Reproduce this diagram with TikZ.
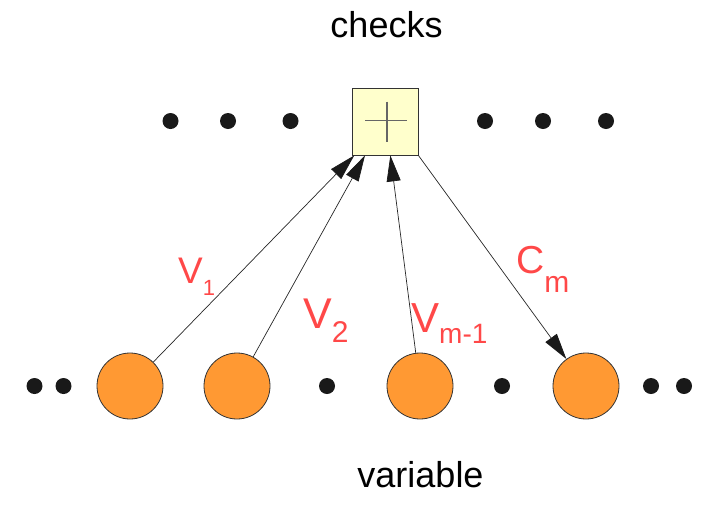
\documentclass[tikz,border=0pt]{standalone}
\usepackage{fontspec}
\setmainfont{Liberation Sans}
\usepackage{xcolor}
\definecolor{labelred}{RGB}{255,72,72}
\definecolor{varorange}{RGB}{255,153,51}
\definecolor{checkfill}{RGB}{255,255,204}
\usepackage{tikz}
\usetikzlibrary{
  arrows.meta,
  calc
}
\tikzset{
  arr/.style={-{Triangle[length=26pt,width=14pt,color=black!90]}, draw=black!85, line width=0.7pt},
  lbl/.style={text=labelred, inner sep=0pt, anchor=base west},
}

\begin{document}
\begin{tikzpicture}[
  x=1pt, y=-1pt,
  varnode/.style={circle, draw=black!80, line width=0.8pt, fill=varorange,
    minimum size=66pt, inner sep=0pt},
  dotnode/.style={circle, fill=black!90, minimum size=16pt, inner sep=0pt},
  checknode/.style={rectangle, draw=black!80, line width=0.8pt, fill=checkfill,
    minimum width=66pt, minimum height=67pt, inner sep=0pt},
  title/.style={font=\fontsize{36}{40}\selectfont, inner sep=0pt, anchor=base}
]
  \useasboundingbox (0,0) rectangle (708,504);

  % Check node
  \node[checknode] (chk) at (385,121.5) {};
  \draw[black!60, line width=1.1pt] ($(chk.center)+(-20,-1)$) -- ($(chk.center)+(22,-1)$);
  \draw[black!60, line width=1.1pt] ($(chk.center)+(2,-20)$) -- ($(chk.center)+(2,20)$);

  % Dots beside the check
  \foreach \x [count=\i] in {170.5,228,290.5,485,543,606}
    \node[dotnode] (cd\i) at (\x,121) {};

  % Variable nodes
  \node[varnode] (v1) at (130,386) {};
  \node[varnode] (v2) at (237,386) {};
  \node[varnode] (vm1) at (420,386) {};
  \node[varnode] (vm) at (586,386) {};

  % Dots between the variables
  \foreach \x [count=\i] in {34.5,63.5,327,502,651,684}
    \node[dotnode] (vd\i) at (\x,386) {};

  % Arrows
  \draw[arr] (v1) -- ($(chk.south west)!0.04!(chk.south east)$);
  \draw[arr] (v2) -- ($(chk.south west)!0.2!(chk.south east)$);
  \draw[arr] (vm1) -- ($(chk.south west)!0.58!(chk.south east)$);
  \draw[arr] (chk.south east) -- (vm);

  % Labels
  \node[lbl, font=\fontsize{37}{37}\selectfont] (lv1) at (178,283)
    {V\raisebox{-12pt}{\fontsize{22}{22}\selectfont 1}};
  \node[lbl, font=\fontsize{43}{43}\selectfont] (lv2) at (303,328)
    {V\raisebox{-14pt}{\fontsize{30}{30}\selectfont 2}};
  \node[lbl, font=\fontsize{42}{42}\selectfont] (lvm1) at (411,332)
    {V\raisebox{-11pt}{\fontsize{28}{28}\selectfont m-1}};
  \node[lbl, font=\fontsize{39}{39}\selectfont] (lcm) at (516,273)
    {C\raisebox{-19pt}{\fontsize{30}{30}\selectfont m}};

  % Titles
  \node[title] (checks) at (386.5,37) {checks};
  \node[title] (variable) at (420.5,487) {variable};
\end{tikzpicture}
\end{document}
